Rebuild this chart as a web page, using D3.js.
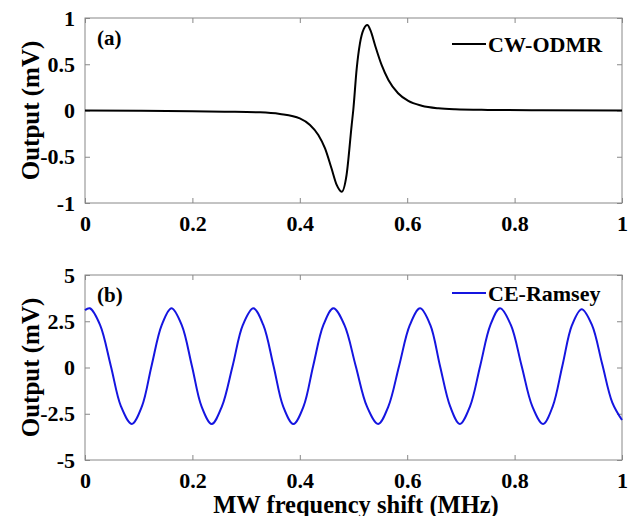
<!DOCTYPE html>
<html>
<head>
<meta charset="utf-8">
<script src="https://cdn.jsdelivr.net/npm/d3@7"></script>
<style>
  body { margin: 0; background: #fff; }
  svg text { font-family: "Liberation Serif", "DejaVu Serif", "Times New Roman", Times, serif !important; font-weight: bold; }
</style>
</head>
<body>
<script>

// CW-ODMR trace
var odmrX = [0, 0.1, 0.2, 0.26, 0.326, 0.363, 0.40, 0.419, 0.4345, 0.447, 0.459, 0.4687, 0.478, 0.487, 0.4966, 0.4995, 0.506, 0.512, 0.519, 0.5257, 0.532, 0.540, 0.5525, 0.565, 0.583, 0.602, 0.627, 0.658, 0.689, 0.75, 0.85, 1.0];
var odmrY = [0, -0.003, -0.008, -0.013, -0.02, -0.038, -0.085, -0.157, -0.265, -0.41, -0.625, -0.805, -0.878, -0.70, -0.157, 0, 0.456, 0.726, 0.88, 0.924, 0.86, 0.708, 0.49, 0.33, 0.186, 0.103, 0.052, 0.024, 0.013, 0.006, 0.002, 0];

// CE-Ramsey fringes
var ramseyX = [0, 0.009, 0.028, 0.048, 0.067, 0.087, 0.106, 0.124, 0.143, 0.161, 0.180, 0.199, 0.217, 0.236, 0.255, 0.275, 0.294, 0.3135, 0.332, 0.351, 0.369, 0.388, 0.407, 0.425, 0.444, 0.4625, 0.483, 0.504, 0.525, 0.546, 0.565, 0.585, 0.605, 0.624, 0.643, 0.661, 0.680, 0.698, 0.717, 0.736, 0.755, 0.773, 0.793, 0.813, 0.833, 0.853, 0.871, 0.889, 0.907, 0.925, 0.944, 0.963, 0.982, 1.0];
var ramseyY = [3.1, 3.2, 2.3, 0.1, -2.1, -3.05, -2.1, 0.1, 2.3, 3.2, 2.3, 0.1, -2.1, -3.05, -2.1, 0.1, 2.3, 3.2, 2.3, 0.1, -2.1, -3.05, -2.1, 0.1, 2.3, 3.2, 2.3, 0.1, -2.1, -3.05, -2.1, 0.1, 2.3, 3.2, 2.3, 0.1, -2.1, -3.05, -2.1, 0.1, 2.3, 3.2, 2.3, 0.1, -2.1, -3.05, -2.1, 0.1, 2.3, 3.15, 2.3, 0.2, -1.9, -2.84];

var xTicks = [0, 0.2, 0.4, 0.6, 0.8, 1];
var yTicksA = [-1, -0.5, 0, 0.5, 1];
var yTicksB = [-5, -2.5, 0, 2.5, 5];

var w = 639, h = 516;
var left = 85, right = 622;

var svg = d3.select("body")
  .append("svg")
  .attr("width", w)
  .attr("height", h);

var x = d3.scaleLinear().domain([0, 1]).range([left, right]);

function panel(top, bottom, yDomain, yTicks, xs, ys, color, curve, tag, legend, legY) {
  var y = d3.scaleLinear().domain(yDomain).range([bottom, top]);
  var g = svg.append("g");

  // inward ticks on all four sides
  var fmt = function(d){ return d === 0 ? "0" : String(d); };
  g.append("g").attr("transform", "translate(0," + bottom + ")")
    .call(d3.axisBottom(x).tickValues(xTicks).tickSizeInner(-5).tickSizeOuter(0).tickPadding(12).tickFormat(fmt));
  g.append("g").attr("transform", "translate(0," + top + ")")
    .call(d3.axisTop(x).tickValues(xTicks).tickSizeInner(-5).tickSizeOuter(0).tickFormat(""));
  g.append("g").attr("transform", "translate(" + left + ",0)")
    .call(d3.axisLeft(y).tickValues(yTicks).tickSizeInner(-5).tickSizeOuter(0).tickPadding(10).tickFormat(fmt));
  g.append("g").attr("transform", "translate(" + right + ",0)")
    .call(d3.axisRight(y).tickValues(yTicks).tickSizeInner(-5).tickSizeOuter(0).tickFormat(""));

  g.selectAll(".domain").remove();
  g.selectAll("g").attr("font-family", null);
  g.selectAll(".tick line").attr("stroke", "#888");
  g.selectAll(".tick text").attr("fill", "#000").style("font-size", "22px");

  g.append("rect")
    .attr("x", left).attr("y", top)
    .attr("width", right - left).attr("height", bottom - top)
    .attr("fill", "none").attr("stroke", "#888").attr("stroke-width", 1);

  var line = d3.line()
    .x(function(d, i){ return x(xs[i]); })
    .y(function(d){ return y(d); })
    .curve(curve);

  g.append("path")
    .datum(ys)
    .attr("d", line)
    .attr("fill", "none")
    .attr("stroke", color)
    .attr("stroke-width", 2);

  g.append("text").attr("x", left + 12).attr("y", top + 27)
    .style("font-size", "21px").text(tag);

  // legend
  g.append("line")
    .attr("x1", 452).attr("x2", 486)
    .attr("y1", legY).attr("y2", legY)
    .attr("stroke", color).attr("stroke-width", 2);
  g.append("text").attr("x", 488).attr("y", legY + 8)
    .style("font-size", "22px").text(legend);

  // y label
  g.append("text")
    .attr("transform", "translate(39," + (top + bottom) / 2 + ") rotate(-90)")
    .attr("text-anchor", "middle")
    .style("font-size", "25px")
    .text("Output (mV)");
}

panel(18, 203, [-1, 1], yTicksA, odmrX, odmrY, "#000", d3.curveMonotoneX, "(a)", "CW-ODMR", 44);
panel(275, 460, [-5, 5], yTicksB, ramseyX, ramseyY, "#1515e0", d3.curveCatmullRom.alpha(0.5), "(b)", "CE-Ramsey", 293);

svg.append("text")
  .attr("x", 356).attr("y", 513)
  .attr("text-anchor", "middle")
  .style("font-size", "24.5px")
  .text("MW frequency shift (MHz)");

</script>
</body>
</html>
